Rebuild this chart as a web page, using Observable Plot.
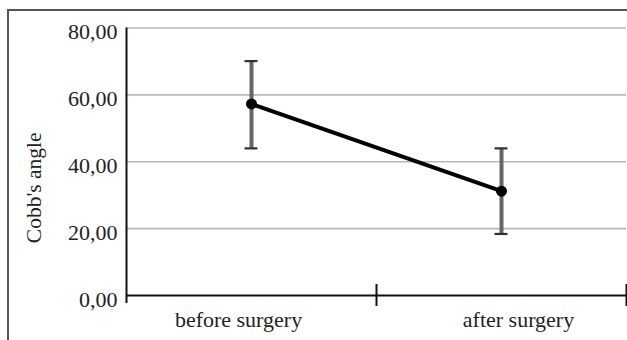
<!DOCTYPE html>
<html>
<head>
<meta charset="utf-8">
<script src="https://cdn.jsdelivr.net/npm/d3@7"></script>
<script src="https://cdn.jsdelivr.net/npm/@observablehq/plot@0.6"></script>
<style>
  html, body { margin: 0; padding: 0; background: #fff; width: 627px; height: 340px; overflow: hidden; }
  #wrap { position: relative; width: 627px; height: 340px; }
  #frame { position: absolute; left: 7px; top: 8.5px; width: 700px; height: 400px; border: 2px solid #555; box-sizing: border-box; }
  #chart { position: absolute; left: 0; top: 0; }
</style>
</head>
<body>
<div id="wrap">
  <div id="frame"></div>
  <div id="chart"></div>
</div>
<script>
const categories = ["before surgery", "after surgery"];
const means = [57.3, 31.2];
const lower = [44.0, 18.4];
const upper = [70.1, 44.0];
const yTicks = [0, 20, 40, 60, 80];
const yTitle = "Cobb's angle";

const data = categories.map((c, i) => ({cat: c, pos: i + 0.5, mean: means[i], lo: lower[i], hi: upper[i]}));
const boundaries = categories.map((c, i) => i + 1);
const font = "'Liberation Serif', 'Times New Roman', serif";

const chart = Plot.plot({
  width: 627,
  height: 340,
  marginLeft: 126,
  marginRight: 1,
  marginTop: 27.5,
  marginBottom: 45,
  style: {fontFamily: font, fontSize: "22px", color: "#222", background: "transparent"},
  x: {domain: [0, categories.length], axis: null},
  y: {domain: [0, 80], axis: null},
  marks: [
    Plot.gridY(yTicks.filter(d => d > 0), {stroke: "#b8b8b8", strokeOpacity: 1, strokeWidth: 1.6}),
    Plot.axisY({ticks: yTicks, tickSize: 0, tickPadding: 9, dy: 4, tickFormat: d => d.toFixed(2).replace(".", ","), fontSize: 22, fill: "#222", label: null}),
    Plot.text([yTitle], {frameAnchor: "left", textAnchor: "middle", rotate: -90, dx: -92, dy: 26, fontSize: 21.5, fill: "#222"}),
    Plot.ruleX([0], {stroke: "#111", strokeWidth: 2, insetBottom: -8}),
    Plot.ruleY([0], {stroke: "#111", strokeWidth: 2}),
    Plot.ruleX(boundaries, {y1: 0, y2: 0, insetTop: -11, insetBottom: -11, stroke: "#111", strokeWidth: 2}),
    Plot.text(data.filter((d, i) => i === 0), {x: "pos", text: "cat", frameAnchor: "bottom", dy: 31, dx: -13, fontSize: 22, fill: "#222"}),
    Plot.text(data.filter((d, i) => i === 1), {x: "pos", text: "cat", frameAnchor: "bottom", dy: 31, dx: 17, fontSize: 22, fill: "#222"}),
    Plot.ruleX(data, {x: "pos", y1: "lo", y2: "hi", stroke: "#666", strokeWidth: 4}),
    Plot.ruleY(data, {y: "hi", x1: "pos", x2: "pos", insetLeft: -6.5, insetRight: -6.5, stroke: "#333", strokeWidth: 2.2}),
    Plot.ruleY(data, {y: "lo", x1: "pos", x2: "pos", insetLeft: -6.5, insetRight: -6.5, stroke: "#333", strokeWidth: 2.2}),
    Plot.line(data, {x: "pos", y: "mean", stroke: "#000", strokeWidth: 4}),
    Plot.dot(data, {x: "pos", y: "mean", r: 5.5, fill: "#000", stroke: "none"})
  ]
});
document.getElementById("chart").appendChild(chart);
</script>
</body>
</html>
